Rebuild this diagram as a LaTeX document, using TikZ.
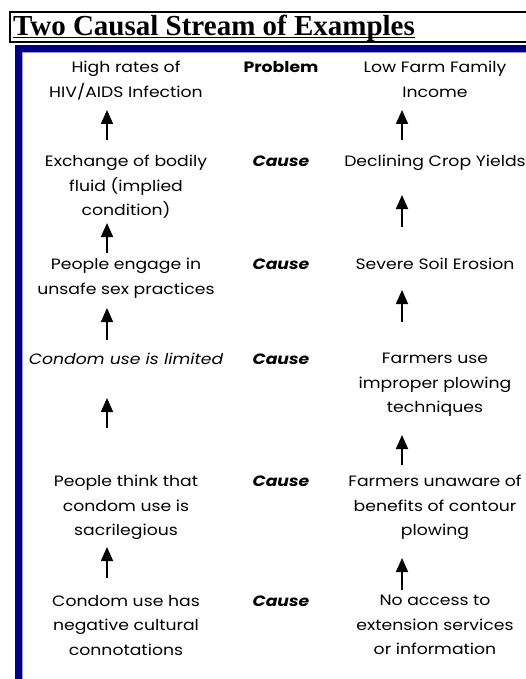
\documentclass[tikz,border=0pt]{standalone}
\usepackage{fontspec}
\newfontfamily\comic[FakeStretch=1.15]{Poppins}
\newfontfamily\titlefont{Liberation Serif}
\usetikzlibrary{arrows.meta}
\definecolor{panelnavy}{RGB}{0,0,128}
\definecolor{panelrim}{RGB}{150,150,235}

\begin{document}
\begin{tikzpicture}[x=1pt,y=-1pt,
  cell/.style={align=center, anchor=north, inner sep=0pt,
    font=\comic\fontsize{15}{24.5}\selectfont},
  tag/.style={cell, font=\comic\fontsize{15}{24.5}\selectfont\bfseries},
  up/.style={-{Triangle[width=12pt,length=14pt]}, line width=1.6pt}
]
\useasboundingbox[fill=white] (0,0) rectangle (526,679);

% heading box with underlined title
\draw[line width=1.5pt] (10,12) rectangle (540,42);
\node[font=\titlefont\fontsize{29}{31}\selectfont\bfseries, anchor=base west,
  inner sep=0pt] (title) at (13,35.5) {Two Causal Stream of Examples};
\draw[line width=1.4pt] ([yshift=-2pt]title.base west) -- ([yshift=-2pt]title.base east);

% navy frame of the table (left and top edges)
\fill[panelnavy] (15,45) rectangle (526,52);
\fill[panelnavy] (15,45) rectangle (22,679);
\draw[panelrim, line width=0.8pt] (22.4,52.4) -- (526,52.4);
\draw[panelrim, line width=0.8pt] (22.4,52.4) -- (22.4,679);

% row 1
\node[cell] (l1) at (126,61) {High rates of\\HIV/AIDS Infection};
\node[tag]  (m1) at (281,61) {Problem};
\node[cell] (r1) at (435,61) {Low Farm Family\\Income};
% row 2
\node[cell] (l2) at (126,155) {Exchange of bodily\\fluid (implied\\condition)};
\node[tag]  (m2) at (281,156) {\itshape Cause};
\node[cell] (r2) at (435,155) {Declining Crop Yields};
% row 3
\node[cell] (l3) at (126,258) {People engage in\\unsafe sex practices};
\node[tag]  (m3) at (281,259) {\itshape Cause};
\node[cell] (r3) at (435,258) {Severe Soil Erosion};
% row 4
\node[cell] (l4) at (126,353) {\itshape Condom use is limited};
\node[tag]  (m4) at (281,354) {\itshape Cause};
\node[cell] (r4) at (435,353) {Farmers use\\improper plowing\\techniques};
% row 5
\node[cell] (l5) at (126,475) {People think that\\condom use is\\sacrilegious};
\node[tag]  (m5) at (281,476) {\itshape Cause};
\node[cell] (r5) at (435,475) {Farmers unaware of\\benefits of contour\\plowing};
% row 6
\node[cell] (l6) at (126,595) {Condom use has\\negative cultural\\connotations};
\node[tag]  (m6) at (281,596) {\itshape Cause};
\node[cell] (r6) at (435,595) {No access to\\extension services\\or information};

% arrow ends, left stream
\coordinate (la1) at (107,140); \coordinate (lb1) at (107,110);
\coordinate (la2) at (107,253); \coordinate (lb2) at (107,223);
\coordinate (la3) at (107,340); \coordinate (lb3) at (107,308);
\coordinate (la4) at (107,428); \coordinate (lb4) at (107,398);
\coordinate (la5) at (107,578); \coordinate (lb5) at (107,547);
% arrow ends, right stream
\coordinate (ra1) at (402,140); \coordinate (rb1) at (402,110);
\coordinate (ra2) at (402,227); \coordinate (rb2) at (402,195);
\coordinate (ra3) at (402,322); \coordinate (rb3) at (402,290);
\coordinate (ra4) at (402,465); \coordinate (rb4) at (402,435);
\coordinate (ra5) at (402,590); \coordinate (rb5) at (402,558);

\foreach \i in {1,...,5} {
  \draw[up] (la\i) -- (lb\i);
  \draw[up] (ra\i) -- (rb\i);
}
\end{tikzpicture}
\end{document}
